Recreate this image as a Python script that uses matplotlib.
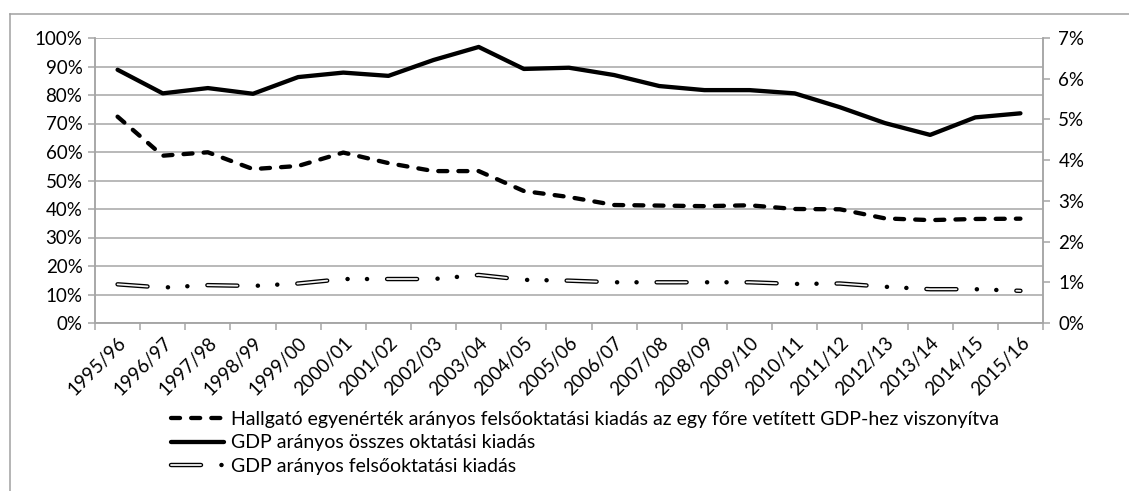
import numpy as np
import matplotlib
matplotlib.use("Agg")
import matplotlib.pyplot as plt
from matplotlib.lines import Line2D
from matplotlib.legend_handler import HandlerTuple

plt.rcParams["font.family"] = ["Lato", "DejaVu Sans"]
plt.rcParams["lines.scale_dashes"] = False

years = ["1995/96", "1996/97", "1997/98", "1998/99", "1999/00", "2000/01", "2001/02",
         "2002/03", "2003/04", "2004/05", "2005/06", "2006/07", "2007/08", "2008/09",
         "2009/10", "2010/11", "2011/12", "2012/13", "2013/14", "2014/15", "2015/16"]

# left axis (%)
hallgato = [72.4, 58.7, 59.9, 54.0, 55.1, 59.8, 56.1, 53.3, 53.3, 46.3, 44.2,
            41.4, 41.2, 41.0, 41.3, 40.0, 39.9, 36.7, 36.1, 36.5, 36.6]
# right axis (%)
osszes = [6.22, 5.64, 5.77, 5.63, 6.04, 6.15, 6.07, 6.46, 6.78, 6.24, 6.27,
          6.09, 5.82, 5.72, 5.72, 5.64, 5.30, 4.91, 4.62, 5.05, 5.15]
felso = [0.95, 0.87, 0.93, 0.91, 0.97, 1.08, 1.08, 1.08, 1.18, 1.06, 1.04,
         1.00, 1.00, 1.00, 1.00, 0.96, 0.97, 0.89, 0.83, 0.83, 0.79]

labels = ["Hallgató egyenérték arányos felsőoktatási kiadás az egy főre vetített GDP-hez viszonyítva",
          "GDP arányos összes oktatási kiadás",
          "GDP arányos felsőoktatási kiadás"]

gray = "#a6a6a6"
fs = 13.5

fig = plt.figure(figsize=(11.29, 4.91), dpi=100)
ax = fig.add_axes([95 / 1129, 1 - 323 / 491, (1043 - 95) / 1129, (323 - 38) / 491])
ax2 = ax.twinx()

x = np.arange(len(years))

l_dash, = ax.plot(x, hallgato, color="black", lw=3.1, dashes=[6.5, 8.0],
                  dash_capstyle="round", zorder=3)
l_solid, = ax2.plot(x, osszes, color="black", lw=3.1, solid_capstyle="round", zorder=3)
# long dash + two dots, dash drawn hollow by a thin light line on top
pat = [21.6, 14.7, 0.1, 13.9, 0.1, 14.4]
l_f1, = ax2.plot(x, felso, color="black", lw=3.2, dashes=pat,
                 dash_capstyle="round", zorder=3)
l_f2, = ax2.plot(x, felso, color="#f4f4f4", lw=1.3, dashes=[21.6, 43.2],
                 dash_capstyle="round", zorder=4)

ax.set_xlim(-0.5, len(years) - 0.5)
ax.set_ylim(0, 100)
ax2.set_ylim(0, 7)
ax.set_yticks(np.arange(0, 101, 10))
ax.set_yticklabels(["{}%".format(v) for v in range(0, 101, 10)])
ax2.set_yticks(np.arange(0, 8, 1))
ax2.set_yticklabels(["{}%".format(v) for v in range(0, 8)])

ax.set_xticks(x)
ax.set_xticklabels(years, rotation=45, ha="right", rotation_mode="anchor")
ax.set_xticks(np.arange(-0.5, len(years), 1), minor=True)
ax.tick_params(axis="x", which="major", length=0, pad=8, labelsize=fs)
ax.tick_params(axis="x", which="minor", length=5, width=1.1, color=gray)
ax.tick_params(axis="y", length=5, width=1.1, color=gray, labelsize=fs, pad=4)
ax2.tick_params(axis="y", length=5, width=1.1, color=gray, labelsize=fs, pad=6)

ax.yaxis.grid(True, color=gray, lw=1.1)
ax.set_axisbelow(True)
for a in (ax, ax2):
    a.spines["top"].set_visible(False)
    for s in ("left", "right", "bottom"):
        a.spines[s].set_color(gray)
        a.spines[s].set_linewidth(1.1)

# outer chart border
fig.add_artist(Line2D([10 / 1129, 1.0], [1 - 14 / 491, 1 - 14 / 491], color="#a0a0a0", lw=1.1))
fig.add_artist(Line2D([10 / 1129, 10 / 1129], [0, 1 - 14 / 491], color="#a0a0a0", lw=1.1))

fig.legend([l_dash, l_solid, (l_f1, l_f2)], labels,
           handler_map={tuple: HandlerTuple(ndivide=1)},
           loc="upper left", bbox_to_anchor=(171 / 1129, 1 - 411 / 491),
           frameon=False, fontsize=14, borderpad=0, borderaxespad=0,
           handlelength=2.75, handletextpad=0.35, labelspacing=0.33)

fig.savefig("out.png", dpi=100)
